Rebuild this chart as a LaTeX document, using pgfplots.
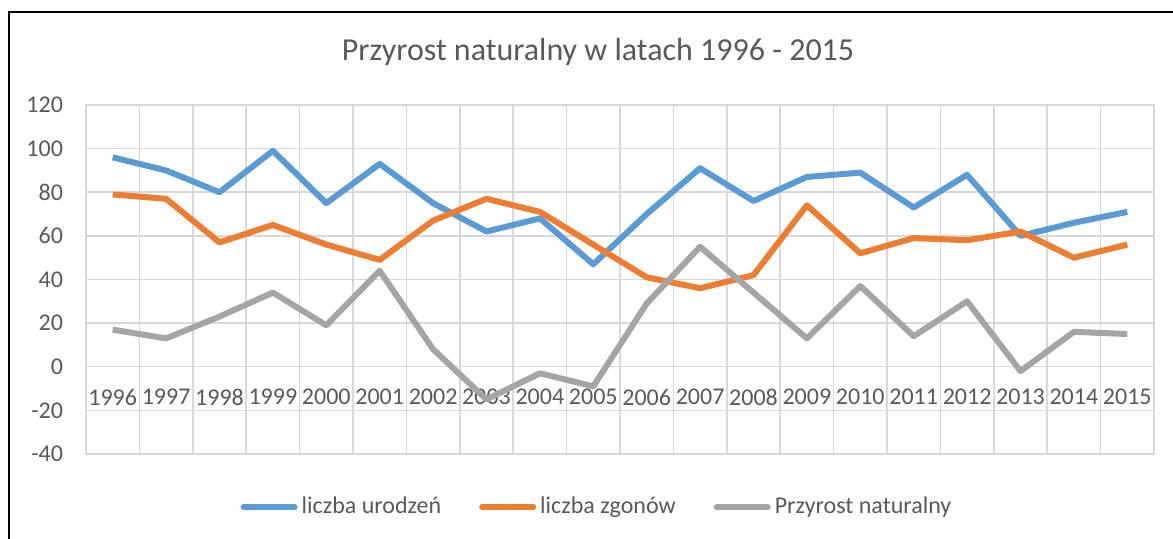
\documentclass[border=0pt]{standalone}
\usepackage{fontspec}
\setmainfont{Carlito}
\usepackage{pgfplots}
\pgfplotsset{compat=1.18}
\definecolor{cblue}{HTML}{5B9BD5}
\definecolor{corange}{HTML}{ED7D31}
\definecolor{cgray}{HTML}{A5A5A5}
\definecolor{cgrid}{HTML}{D9D9D9}
\definecolor{ctext}{HTML}{595959}
\begin{document}
\begin{tikzpicture}
\useasboundingbox (-43pt,-42.5pt) rectangle (543.5pt,227pt);
\begin{axis}[
  scale only axis,
  width=534pt, height=174.5pt,
  xmin=-0.5, xmax=19.5,
  ymin=-40, ymax=120,
  ytick={-40,-20,...,120},
  xtick={0,...,19},
  xticklabels={1996,1997,1998,1999,2000,2001,2002,2003,2004,2005,2006,2007,2008,2009,2010,2011,2012,2013,2014,2015},
  minor xtick={-0.5,0.5,...,19.5},
  major tick length=0pt, minor tick length=0pt,
  ymajorgrids, xminorgrids,
  grid style={cgrid, line width=0.75pt},
  minor grid style={cgrid, line width=0.75pt},
  axis line style={cgrid, line width=0.75pt},
  /pgf/number format/assume math mode=true,
  ticklabel style={font=\fontsize{12}{14}\selectfont, text=ctext},
  yticklabel style={xshift=-8pt},
  xticklabel style={anchor=center, yshift=28.5pt},
  legend columns=3,
  legend style={at={(0.4794,-0.1519)}, anchor=center, draw=none, fill=none,
    font=\fontsize{12}{14}\selectfont, text=ctext,
    /tikz/every even column/.append style={column sep=17pt}},
  legend image code/.code={\draw[#1, line width=3pt, line cap=round] (0pt,0pt) -- (25.5pt,0pt);},
  every axis plot/.append style={line width=3pt, line join=round, no markers},
  clip=false,
]
\addplot[cblue] coordinates {(0,96)(1,90)(2,80)(3,99)(4,75)(5,93)(6,75)(7,62)(8,68)(9,47)(10,70)(11,91)(12,76)(13,87)(14,89)(15,73)(16,88)(17,60)(18,66)(19,71)};
\addlegendentry{liczba urodzeń}
\addplot[corange] coordinates {(0,79)(1,77)(2,57)(3,65)(4,56)(5,49)(6,67)(7,77)(8,71)(9,56)(10,41)(11,36)(12,42)(13,74)(14,52)(15,59)(16,58)(17,62)(18,50)(19,56)};
\addlegendentry{liczba zgonów}
\addplot[cgray] coordinates {(0,17)(1,13)(2,23)(3,34)(4,19)(5,44)(6,8)(7,-15)(8,-3)(9,-9)(10,29)(11,55)(12,34)(13,13)(14,37)(15,14)(16,30)(17,-2)(18,16)(19,15)};
\addlegendentry{Przyrost naturalny}
\end{axis}
\node[font=\fontsize{16}{19}\selectfont, text=ctext] at (256pt,201pt) {Przyrost naturalny w latach 1996 - 2015};
\draw[black, line width=1pt] (-38.5pt,-43pt) -- (-38.5pt,221pt) -- (544pt,221pt);
\end{tikzpicture}
\end{document}
